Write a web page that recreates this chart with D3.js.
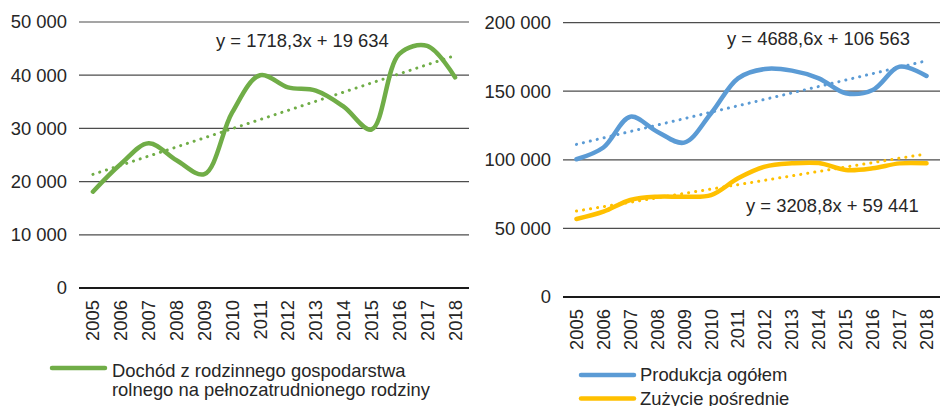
<!DOCTYPE html>
<html lang="pl">
<head>
    <meta charset="UTF-8">
    <title>Dochód i produkcja</title>
    <style>
        body { margin: 0; background: #fff; }
        svg { display: block; }
        text {
            font-family: "Liberation Sans", Arial, sans-serif;
            font-size: 18.4px;
            fill: #262626;
        }
        .grid line { stroke: #4d4d4d; stroke-width: 1.2; }
        .zero { stroke: #1a1a1a; stroke-width: 2.2; }
    </style>
</head>
<body>
    <script src="https://d3js.org/d3.v7.min.js"></script>
    <script>
        // data
        const years = ["2005", "2006", "2007", "2008", "2009", "2010", "2011",
                       "2012", "2013", "2014", "2015", "2016", "2017", "2018"];
        const dochod = [18100, 23300, 27200, 24000, 21400, 33000, 40000,
                        37700, 37100, 34100, 29800, 44000, 45500, 39600];
        const produkcja = [100400, 109000, 131400, 120500, 112500, 133900, 159400,
                           166200, 165000, 159400, 148500, 150900, 167900, 161100];
        const zuzycie = [56900, 62200, 70700, 73100, 73100, 74300, 86500,
                         95000, 97400, 97600, 92600, 93800, 97400, 97400];
        const leftTicks = [0, 10000, 20000, 30000, 40000, 50000];
        const rightTicks = [0, 50000, 100000, 150000, 200000];
        // trend lines (slope, intercept), x = 1..14
        const trendDochod = [1718.3, 19634];
        const trendProd = [4688.6, 106563];
        const trendZuz = [3208.8, 59441];

        const green = "#70ad47", blue = "#5b9bd5", yellow = "#ffc000";

        const svg = d3.select("body").append("svg")
            .attr("width", 940)
            .attr("height", 406);

        const fmt = v => d3.format(",")(v).replace(/,/g, " ");

        function panel(opt) {
            const x = d3.scaleBand().domain(years).range([opt.x0, opt.x1]);
            const y = d3.scaleLinear().domain([0, opt.max]).range([opt.y0, opt.y1]);
            const cx = d => x(d) + x.bandwidth() / 2;
            const g = svg.append("g");

            // gridlines
            g.append("g").attr("class", "grid")
                .selectAll("line")
                .data(opt.ticks.filter(t => t > 0))
                .join("line")
                .attr("x1", opt.x0).attr("x2", opt.x1)
                .attr("y1", d => y(d)).attr("y2", d => y(d));
            g.append("line").attr("class", "zero")
                .attr("x1", opt.x0).attr("x2", opt.x1)
                .attr("y1", y(0)).attr("y2", y(0));

            // y labels
            g.selectAll("text.ylab")
                .data(opt.ticks)
                .join("text")
                .attr("class", "ylab")
                .attr("x", opt.x0 - 12)
                .attr("y", d => y(d))
                .attr("dy", "0.35em")
                .attr("text-anchor", "end")
                .text(fmt);

            // x labels, rotated
            g.selectAll("text.xlab")
                .data(years)
                .join("text")
                .attr("class", "xlab")
                .attr("transform", d => `translate(${cx(d)},${y(0) + 12}) rotate(-90)`)
                .attr("dy", "0.35em")
                .attr("text-anchor", "end")
                .text(d => d);

            const line = d3.line()
                .x((d, i) => cx(years[i]))
                .y(d => y(d))
                .curve(d3.curveCatmullRom.alpha(0.5));

            opt.series.forEach(s => {
                const trend = years.map((yr, i) => s.trend[0] * (i + 1) + s.trend[1]);
                g.append("line")
                    .attr("x1", cx(years[0])).attr("y1", y(trend[0]))
                    .attr("x2", cx(years[years.length - 1])).attr("y2", y(trend[trend.length - 1]))
                    .attr("stroke", s.color)
                    .attr("stroke-width", 3)
                    .attr("stroke-linecap", "round")
                    .attr("stroke-dasharray", "0.1 7");
                g.append("path")
                    .datum(s.values)
                    .attr("d", line)
                    .attr("fill", "none")
                    .attr("stroke", s.color)
                    .attr("stroke-width", 4.5)
                    .attr("stroke-linecap", "round");
                g.append("text")
                    .attr("x", s.eq[0]).attr("y", s.eq[1])
                    .text(`y = ${String(s.trend[0]).replace(".", ",")}x + ${fmt(s.trend[1])}`);
            });
            return g;
        }

        panel({
            x0: 79, x1: 469, y0: 288, y1: 22, max: 50000, ticks: leftTicks,
            series: [{ values: dochod, color: green, trend: trendDochod, eq: [216, 47] }]
        });

        panel({
            x0: 563, x1: 940, y0: 297, y1: 22.6, max: 200000, ticks: rightTicks,
            series: [
                { values: produkcja, color: blue, trend: trendProd, eq: [727, 45] },
                { values: zuzycie, color: yellow, trend: trendZuz, eq: [746, 212] }
            ]
        });

        // legends
        const legend = svg.append("g");
        legend.append("line")
            .attr("x1", 52).attr("x2", 105).attr("y1", 368).attr("y2", 368)
            .attr("stroke", green).attr("stroke-width", 4.5).attr("stroke-linecap", "round");
        legend.append("text").attr("x", 112).attr("y", 377).text("Dochód z rodzinnego gospodarstwa");
        legend.append("text").attr("x", 112).attr("y", 396).text("rolnego na pełnozatrudnionego rodziny");

        const leg2 = [["Produkcja ogółem", blue], ["Zużycie pośrednie", yellow]];
        leg2.forEach((d, i) => {
            legend.append("line")
                .attr("x1", 581).attr("x2", 634)
                .attr("y1", 375 + i * 23.5).attr("y2", 375 + i * 23.5)
                .attr("stroke", d[1]).attr("stroke-width", 4.5).attr("stroke-linecap", "round");
            legend.append("text")
                .attr("x", 640).attr("y", 381 + i * 23.5)
                .text(d[0]);
        });
    </script>
</body>
</html>
